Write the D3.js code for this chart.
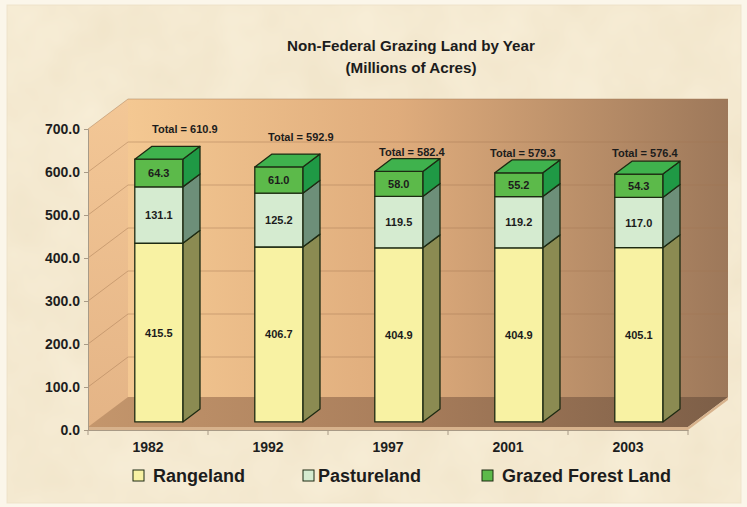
<!DOCTYPE html>
<html>
<head>
<meta charset="utf-8">
<script src="https://cdn.jsdelivr.net/npm/d3@7"></script>
<style>
  body { margin: 0; background: #fbf6ea; }
  svg { display: block; font-family: Arial, "Liberation Sans", sans-serif; }
</style>
</head>
<body>
<svg id="chart" width="747" height="507"></svg>
<script>
// data
const years = ["1982", "1992", "1997", "2001", "2003"];
const series = ["Rangeland", "Pastureland", "Grazed Forest Land"];
const rangeland = [415.5, 406.7, 404.9, 404.9, 405.1];
const pastureland = [131.1, 125.2, 119.5, 119.2, 117.0];
const grazedForest = [64.3, 61.0, 58.0, 55.2, 54.3];
const totals = [610.9, 592.9, 582.4, 579.3, 576.4];
const yTicks = [0, 100, 200, 300, 400, 500, 600, 700];

// label nudges for the "Total" text (layout only)
const totalNudge = [[26, -30], [22, -30], [13, -19], [4, -20], [6, -21]];

const front = { Rangeland: "#f8f2a3", Pastureland: "#d5ebd0", "Grazed Forest Land": "#5cba4a" };
const side = { Rangeland: "#8b8b52", Pastureland: "#6d8f79", "Grazed Forest Land": "#1f9945" };
const topFace = "#3fb24d";
const outline = "#1d2a12";

const svg = d3.select("#chart");
const W = 747, H = 507;

const defs = svg.append("defs");
const noise = defs.append("filter").attr("id", "paper").attr("x", 0).attr("y", 0).attr("width", "100%").attr("height", "100%");
noise.append("feTurbulence").attr("type", "fractalNoise").attr("baseFrequency", 0.018).attr("numOctaves", 3).attr("seed", 4);
noise.append("feColorMatrix").attr("values", "0 0 0 0 0.75  0 0 0 0 0.62  0 0 0 0 0.4  0 0 0 0.35 -0.05");

const wallGrad = defs.append("linearGradient").attr("id", "wall").attr("x1", 0).attr("x2", 1).attr("y1", 0).attr("y2", 0);
wallGrad.append("stop").attr("offset", 0).attr("stop-color", "#f4c892");
wallGrad.append("stop").attr("offset", 0.45).attr("stop-color", "#dfac7c");
wallGrad.append("stop").attr("offset", 1).attr("stop-color", "#9d785a");
const floorGrad = defs.append("linearGradient").attr("id", "floor").attr("x1", 0).attr("x2", 1).attr("y1", 0).attr("y2", 0);
floorGrad.append("stop").attr("offset", 0).attr("stop-color", "#c4966c");
floorGrad.append("stop").attr("offset", 0.5).attr("stop-color", "#a87d5b");
floorGrad.append("stop").attr("offset", 1).attr("stop-color", "#7c5e47");
const leftGrad = defs.append("linearGradient").attr("id", "leftwall").attr("x1", 0).attr("x2", 0).attr("y1", 0).attr("y2", 1);
leftGrad.append("stop").attr("offset", 0).attr("stop-color", "#f3c796");
leftGrad.append("stop").attr("offset", 1).attr("stop-color", "#e4b486");

// paper background
svg.append("rect").attr("x", 7).attr("y", 5).attr("width", W - 13).attr("height", H - 9)
  .attr("fill", "#f7edd6").attr("stroke", "#efe4cc");
svg.append("rect").attr("x", 7).attr("y", 5).attr("width", W - 13).attr("height", H - 9)
  .attr("filter", "url(#paper)");

// scales
const x = d3.scaleBand().domain(years).range([88, 688]).paddingInner(0.6).paddingOuter(0.3);
const y = d3.scaleLinear().domain([0, 700]).range([430, 129]);
const depth = { dx: 40, dy: -30 };
const barNear = 0.27, barFar = 0.7;
const floorThick = 3;

const x0 = x.range()[0], x1 = x.range()[1];
const yTop = y(700), yBot = y(0);
const line = d3.line();

// walls
svg.append("path").attr("fill", "url(#leftwall)")
  .attr("d", line([[x0, yBot], [x0, yTop], [x0 + depth.dx, yTop + depth.dy], [x0 + depth.dx, yBot + depth.dy]]) + "Z");
svg.append("path").attr("fill", "url(#wall)")
  .attr("d", line([[x0 + depth.dx, yTop + depth.dy], [x1 + depth.dx, yTop + depth.dy], [x1 + depth.dx, yBot + depth.dy], [x0 + depth.dx, yBot + depth.dy]]) + "Z");
svg.append("path").attr("fill", "url(#floor)")
  .attr("d", line([[x0, yBot - floorThick], [x1, yBot - floorThick], [x1 + depth.dx, yBot + depth.dy - floorThick], [x0 + depth.dx, yBot + depth.dy - floorThick]]) + "Z");
svg.append("path").attr("fill", "#d7b28c")
  .attr("d", line([[x0, yBot], [x1, yBot], [x1 + depth.dx, yBot + depth.dy], [x1 + depth.dx, yBot + depth.dy - floorThick], [x1, yBot - floorThick], [x0, yBot - floorThick]]) + "Z");

// gridlines
const grid = svg.append("g").attr("stroke", "#a27650").attr("stroke-opacity", 0.45).attr("fill", "none");
yTicks.filter(d => d > 0).forEach(v => {
  grid.append("path").attr("d", line([[x0, y(v)], [x0 + depth.dx, y(v) + depth.dy], [x1 + depth.dx, y(v) + depth.dy]]));
});

// axes
const yAxis = svg.append("g").attr("transform", `translate(${x0},0)`)
  .call(d3.axisLeft(y).tickValues(yTicks).tickFormat(d3.format(".1f")).tickSize(4).tickPadding(4));
yAxis.select(".domain").attr("stroke", "#a89a86");
yAxis.selectAll(".tick line").attr("stroke", "#a89a86");
yAxis.selectAll("text").attr("font-size", 14).attr("font-weight", "bold").attr("fill", "#1e1e1e");

const xAxis = svg.append("g").attr("transform", `translate(0,${yBot})`)
  .call(d3.axisBottom(x).tickSize(0).tickPadding(12));
xAxis.select(".domain").attr("stroke", "#a89a86");
xAxis.selectAll("text").attr("font-size", 14).attr("font-weight", "bold").attr("fill", "#1e1e1e");
// category boundary ticks
const step = x.step();
svg.append("g").attr("stroke", "#a89a86").selectAll("line")
  .data(d3.range(years.length + 1)).join("line")
  .attr("x1", i => x0 + i * step).attr("x2", i => x0 + i * step)
  .attr("y1", yBot).attr("y2", yBot + 5);

// stacked bars
const table = years.map((yr, i) => ({
  year: yr,
  Rangeland: rangeland[i],
  Pastureland: pastureland[i],
  "Grazed Forest Land": grazedForest[i]
}));
const stacked = d3.stack().keys(series)(table);

const nx = depth.dx * barNear, ny = depth.dy * barNear;
const fx = depth.dx * (barFar - barNear), fy = depth.dy * (barFar - barNear);
const bw = x.bandwidth();

const bars = svg.append("g").attr("stroke", outline).attr("stroke-width", 1.3).attr("stroke-linejoin", "round");
stacked.forEach((layer, li) => {
  layer.forEach((seg, i) => {
    const left = x(years[i]) + nx;
    const right = left + bw;
    const ya = y(seg[0]) + ny, yb = y(seg[1]) + ny;
    bars.append("path").attr("fill", side[layer.key])
      .attr("d", line([[right, ya], [right, yb], [right + fx, yb + fy], [right + fx, ya + fy]]) + "Z");
    bars.append("rect").attr("fill", front[layer.key])
      .attr("x", left).attr("y", yb).attr("width", bw).attr("height", ya - yb);
    if (li === stacked.length - 1) {
      bars.append("path").attr("fill", topFace)
        .attr("d", line([[left, yb], [right, yb], [right + fx, yb + fy], [left + fx, yb + fy]]) + "Z");
    }
    svg.append("text").attr("x", left + bw / 2).attr("y", (ya + yb) / 2)
      .attr("text-anchor", "middle").attr("dominant-baseline", "central")
      .attr("font-size", 11).attr("font-weight", "bold").attr("fill", "#1c1c1c")
      .text(d3.format(".1f")(seg[1] - seg[0]));
  });
});

// totals
svg.append("g").selectAll("text").data(totals).join("text")
  .attr("x", (d, i) => x(years[i]) + nx + bw / 2 + totalNudge[i][0])
  .attr("y", (d, i) => y(d) + ny + totalNudge[i][1])
  .attr("text-anchor", "middle").attr("dominant-baseline", "central")
  .attr("font-size", 11).attr("font-weight", "bold").attr("fill", "#1c1c1c")
  .text(d => "Total = " + d3.format(".1f")(d));

// title
const title = svg.append("text").attr("text-anchor", "middle").attr("font-size", 15.2)
  .attr("font-weight", "bold").attr("fill", "#1c1c1c");
title.append("tspan").attr("x", 411).attr("y", 51).text("Non-Federal Grazing Land by Year");
title.append("tspan").attr("x", 411).attr("y", 72.5).text("(Millions of Acres)");

// legend
const legendX = [133, 303, 482];
const legend = svg.append("g").selectAll("g").data(series).join("g")
  .attr("transform", (d, i) => `translate(${legendX[i]},470)`);
legend.append("rect").attr("width", 11).attr("height", 11)
  .attr("fill", d => front[d]).attr("stroke", outline).attr("stroke-width", 1);
legend.append("text").attr("x", (d, i) => i === 1 ? 15 : 20).attr("y", 11.5)
  .attr("font-size", 18).attr("font-weight", "bold").attr("fill", "#1c1c1c")
  .text(d => d);
</script>
</body>
</html>
